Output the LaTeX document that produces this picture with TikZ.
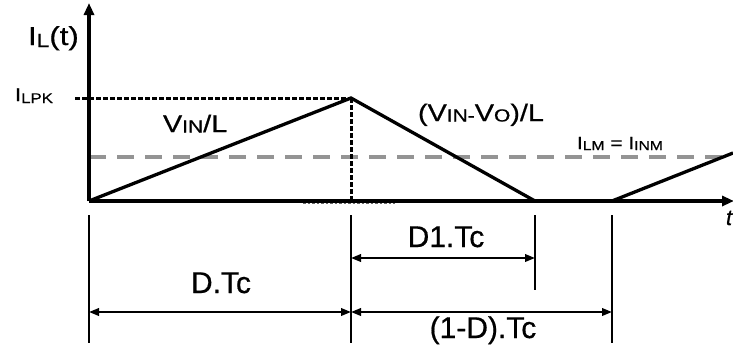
\documentclass[tikz,border=0pt]{standalone}
\usepackage{fontspec}
\usepackage{graphicx}
\setmainfont{Liberation Sans}[FakeBold=0.6]
\usetikzlibrary{arrows.meta}
\newcommand\sbs[3]{\raisebox{-#1pt}{\fontsize{#2}{#2}\selectfont #3}}
\newcommand\wide[1]{\scalebox{1.2}[1]{#1}}
\begin{document}
\begin{tikzpicture}[x=1pt,y=-1pt,
  axisline/.style={line width=3.8pt,-{Triangle[length=12pt,width=10pt]}},
  wave/.style={line width=3.3pt,line join=miter},
  tick/.style={line width=2.1pt},
  dimarrow/.style={line width=2.1pt,{Triangle[length=10pt,width=7.5pt]}-{Triangle[length=10pt,width=7.5pt]}},
  dotline/.style={line width=3pt,dash pattern=on 4.5pt off 2.5pt},
  avgline/.style={line width=3.6pt,draw=black!42,dash pattern=on 17pt off 11pt},
  lab/.style={inner sep=0pt,outer sep=0pt}]
\useasboundingbox (0,0) rectangle (733,349);
% key points
\coordinate (O) at (89,201);
\coordinate (Ytop) at (89,3);
\coordinate (Xend) at (734,201);
\coordinate (P) at (351,98);
\coordinate (Pb) at (351,201);
\coordinate (Pl) at (75,98);
\coordinate (Z1) at (535,201);
\coordinate (Z2) at (612,201);
\coordinate (E) at (733,153);
\coordinate (Al) at (89,157);
\coordinate (Ar) at (733,157);
\coordinate (Da) at (303,203.5);
\coordinate (Db) at (395,203.5);
% ticks
\coordinate (T1a) at (89,215);  \coordinate (T1b) at (89,343);
\coordinate (T2a) at (351,215); \coordinate (T2b) at (351,343);
\coordinate (T3a) at (535,215); \coordinate (T3b) at (535,290);
\coordinate (T4a) at (612,215); \coordinate (T4b) at (612,343);
\coordinate (A1l) at (89,312);  \coordinate (A1r) at (351,312);
\coordinate (A2l) at (351,312); \coordinate (A2r) at (612,312);
\coordinate (A3l) at (351,258); \coordinate (A3r) at (535,258);
% average line
\draw[avgline] (Al) -- (Ar);
% dotted guides
\draw[dotline] (Pl) -- (P);
\draw[dotline] (P) -- (Pb);
\draw[line width=1.2pt,draw=black!60,dash pattern=on 2.5pt off 2pt] (Da) -- (Db);
% waveform
\draw[wave] (O) -- (P) -- (Z1) -- (Z2) -- (E);
% axes
\draw[axisline] (O) -- (Ytop);
\draw[axisline] (O) -- (Xend);
% ticks and dimensions
\draw[tick] (T1a) -- (T1b);
\draw[tick] (T2a) -- (T2b);
\draw[tick] (T3a) -- (T3b);
\draw[tick] (T4a) -- (T4b);
\draw[dimarrow] (A1l) -- (A1r);
\draw[dimarrow] (A2l) -- (A2r);
\draw[dimarrow] (A3l) -- (A3r);
% labels
\node[lab,anchor=base west] (ilt) at (28,45) {\wide{\fontsize{26}{26}\selectfont I\sbs{2}{19}{L}(t)}};
\node[lab,anchor=base west] (ilpk) at (15,101) {\wide{\fontsize{18.5}{18}\selectfont I\sbs{2}{14}{LPK}}};
\node[lab,anchor=base west] (vin) at (163,132) {\wide{\fontsize{24}{24}\selectfont V\sbs{0.5}{17.5}{IN}/L}};
\node[lab,anchor=base west] (vinvo) at (418,121) {\wide{\fontsize{24}{24}\selectfont (V\sbs{0.5}{17.5}{IN-}V\sbs{0.5}{17.5}{O})/L}};
\node[lab,anchor=base west] (ilm) at (577,149) {\wide{\fontsize{17.5}{17}\selectfont I\sbs{1}{13}{LM} = I\sbs{1}{13}{INM}}};
\node[lab,anchor=base west] (tl) at (726,225) {\fontsize{22}{22}\selectfont\itshape t};
\node[lab,anchor=base] (dtc) at (221,293) {\fontsize{30}{30}\selectfont D.Tc};
\node[lab,anchor=base] (d1tc) at (446,247) {\fontsize{30}{30}\selectfont D1.Tc};
\node[lab,anchor=base] (omd) at (483,338) {\fontsize{30}{30}\selectfont (1-D).Tc};
\end{tikzpicture}
\end{document}
